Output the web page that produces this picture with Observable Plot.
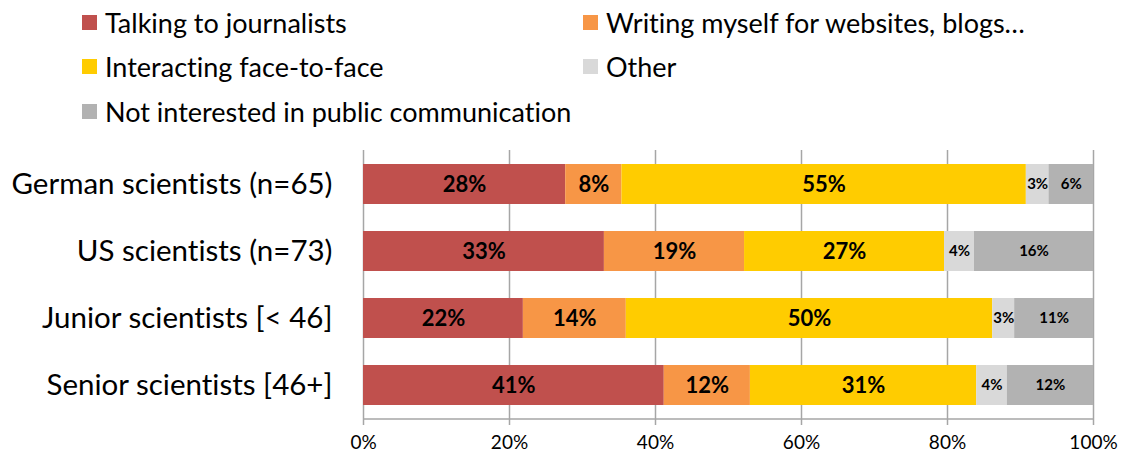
<!DOCTYPE html>
<html>
<head>
<meta charset="utf-8">
<script src="https://cdn.jsdelivr.net/npm/d3@7"></script>
<script src="https://cdn.jsdelivr.net/npm/@observablehq/plot@0.6"></script>
<style>
  html, body { margin: 0; padding: 0; background: #fff; }
  body { width: 1122px; height: 459px; overflow: hidden; font-family: Lato, "Open Sans", sans-serif; color: #000;
         font-variant-ligatures: none; font-feature-settings: "liga" 0; }
  #legend { height: 135px; box-sizing: border-box; padding-left: 82px; display: grid;
            grid-template-columns: 501px auto; grid-auto-rows: 44.5px; align-items: center; }
  .item { display: flex; align-items: center; font-size: 27px; white-space: nowrap; }
  .sw { width: 15px; height: 15px; margin-right: 8px; flex: none; }
  #chart svg { display: block; font-variant-ligatures: none; font-feature-settings: "liga" 0; }
</style>
</head>
<body>
<div id="legend"></div>
<div id="chart"></div>
<script>
const groups = ["German scientists (n=65)", "US scientists (n=73)", "Junior scientists [< 46]", "Senior scientists [46+]"];
const seriesNames = ["Talking to journalists", "Writing myself for websites, blogs…", "Interacting face-to-face", "Other", "Not interested in public communication"];
const seriesColors = ["#c0504d", "#f79646", "#ffcc00", "#d9d9d9", "#b2b2b2"];
const talking = [27.7, 33.0, 21.9, 41.2];
const writing = [7.7, 19.2, 14.1, 11.8];
const faceToFace = [55.4, 27.4, 50.2, 31.0];
const other = [3.1, 4.1, 3.0, 4.2];
const notInterested = [6.1, 16.3, 10.8, 11.8];
const xTicks = [0, 20, 40, 60, 80, 100];

const seriesValues = [talking, writing, faceToFace, other, notInterested];
const smallSeries = new Set(["Other", "Not interested in public communication"]);

const rows = [];
seriesNames.forEach((s, si) => {
  groups.forEach((g, gi) => {
    rows.push({group: g, series: s, value: seriesValues[si][gi], label: Math.round(seriesValues[si][gi]) + "%"});
  });
});

// legend
const legend = document.getElementById("legend");
seriesNames.forEach((s, i) => {
  const it = document.createElement("div");
  it.className = "item";
  const sw = document.createElement("span");
  sw.className = "sw";
  sw.style.background = seriesColors[i];
  it.appendChild(sw);
  it.appendChild(document.createTextNode(s));
  legend.appendChild(it);
});

const stackOpts = {order: seriesNames, x: "value", y: "group", z: "series"};

const baseline = (index, scales, values, dimensions) => {
  const {width, height, marginLeft, marginRight, marginBottom} = dimensions;
  const y = height - marginBottom;
  const l = d3.create("svg:line")
    .attr("x1", marginLeft).attr("x2", width - marginRight)
    .attr("y1", y).attr("y2", y)
    .attr("stroke", "#a6a6a6").attr("stroke-width", 1.5);
  return l.node();
};

const chart = Plot.plot({
  width: 1122,
  height: 324,
  marginLeft: 363,
  marginRight: 29,
  marginTop: 15,
  marginBottom: 40,
  style: {fontFamily: "Lato, 'Open Sans', sans-serif", color: "#000", background: "#fff"},
  x: {domain: [0, 100]},
  y: {domain: groups, paddingInner: 0.4, paddingOuter: 0.2},
  color: {domain: seriesNames, range: seriesColors},
  marks: [
    Plot.gridX({ticks: xTicks, stroke: "#a6a6a6", strokeOpacity: 1, strokeWidth: 1.5}),
    baseline,
    Plot.barX(rows, Plot.stackX({...stackOpts, fill: "series"})),
    Plot.text(rows, Plot.stackX({...stackOpts, text: d => smallSeries.has(d.series) ? "" : d.label, fontSize: 22, fontWeight: "bold", fill: "#000"})),
    Plot.text(rows, Plot.stackX({...stackOpts, text: d => smallSeries.has(d.series) ? d.label : "", fontSize: 15, fontWeight: "bold", fill: "#000"})),
    Plot.axisX({ticks: xTicks, tickSize: 6, tickPadding: 10, stroke: "#a6a6a6", strokeWidth: 1.5, fontSize: 19, tickFormat: d => d + "%", label: null}),
    Plot.axisY({tickSize: 0, tickPadding: 31, fontSize: 29.5, label: null})
  ]
});

document.getElementById("chart").appendChild(chart);
</script>
</body>
</html>
